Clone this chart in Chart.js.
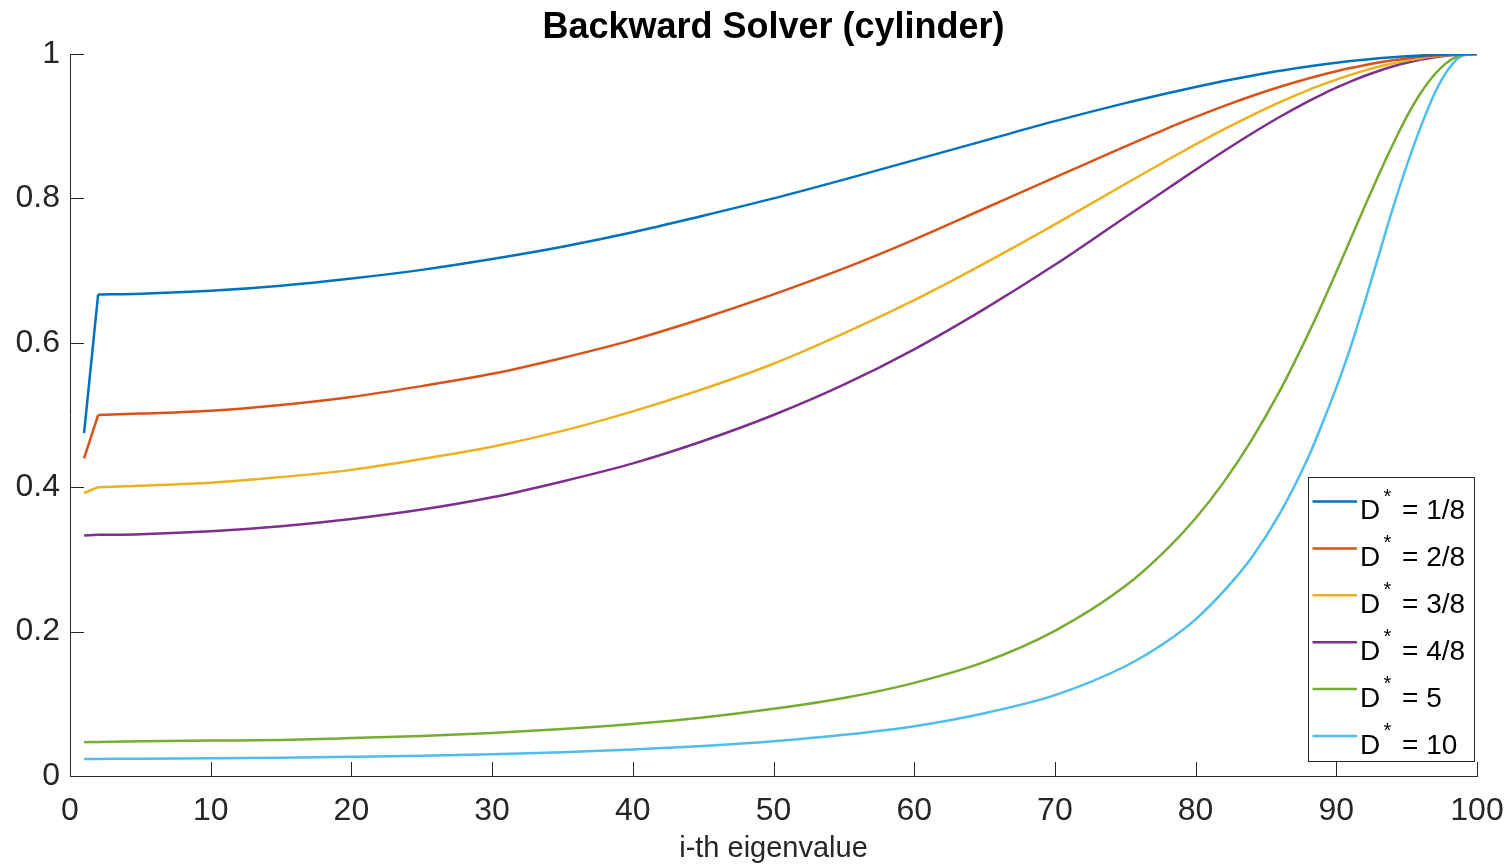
<!DOCTYPE html>
<html lang="en">
<head>
<meta charset="UTF-8">
<title>Backward Solver (cylinder)</title>
<script src="https://cdn.jsdelivr.net/npm/chart.js"></script>
<style>
  html, body { margin: 0; padding: 0; background: #fff; }
</style>
</head>
<body>
<canvas id="grafica" width="1507" height="868"></canvas>
<script>
// datos
const eigIndex = [1, 2, 5, 10, 15, 20, 25, 30, 35, 40, 45, 50, 55, 60, 65, 70, 75, 78, 80, 82, 84, 86, 88, 89, 90, 91, 92, 93, 94, 95, 96, 97, 98, 99, 100];
const dLabels = ["1/8", "2/8", "3/8", "4/8", "5", "10"];
const d1_8 = [0.475, 0.667, 0.668, 0.672, 0.679, 0.689, 0.701, 0.716, 0.733, 0.753, 0.776, 0.800, 0.826, 0.853, 0.880, 0.907, 0.932, 0.9457, 0.9544, 0.9625, 0.9700, 0.9768, 0.9827, 0.9854, 0.9879, 0.9902, 0.9922, 0.9940, 0.9956, 0.9969, 0.9980, 0.9989, 0.9995, 0.9999, 1];
const d2_8 = [0.440, 0.500, 0.502, 0.506, 0.514, 0.525, 0.540, 0.557, 0.579, 0.604, 0.634, 0.667, 0.703, 0.743, 0.786, 0.829, 0.872, 0.8971, 0.9128, 0.9278, 0.9418, 0.9546, 0.9661, 0.9713, 0.9761, 0.9805, 0.9845, 0.9881, 0.9912, 0.9939, 0.9961, 0.9978, 0.9990, 0.9998, 1];
const d3_8 = [0.392, 0.400, 0.402, 0.406, 0.414, 0.424, 0.439, 0.456, 0.478, 0.505, 0.536, 0.571, 0.613, 0.659, 0.710, 0.764, 0.820, 0.8532, 0.8747, 0.8955, 0.9151, 0.9334, 0.9500, 0.9575, 0.9646, 0.9711, 0.9770, 0.9823, 0.9869, 0.9908, 0.9941, 0.9967, 0.9985, 0.9996, 1];
const d4_8 = [0.333, 0.334, 0.335, 0.339, 0.346, 0.356, 0.369, 0.386, 0.408, 0.433, 0.464, 0.500, 0.542, 0.591, 0.647, 0.708, 0.774, 0.8134, 0.8396, 0.8653, 0.8899, 0.9131, 0.9344, 0.9442, 0.9533, 0.9618, 0.9695, 0.9765, 0.9826, 0.9878, 0.9922, 0.9956, 0.9980, 0.9995, 1];
const d5 = [0.047, 0.047, 0.048, 0.049, 0.050, 0.0525, 0.0555, 0.0595, 0.065, 0.072, 0.081, 0.093, 0.108, 0.129, 0.158, 0.201, 0.263, 0.315, 0.357, 0.407, 0.466, 0.534, 0.612, 0.654, 0.698, 0.743, 0.788, 0.832, 0.874, 0.913, 0.946, 0.972, 0.990, 0.999, 1];
const d10 = [0.0235, 0.0237, 0.0239, 0.0245, 0.0253, 0.0265, 0.028, 0.0302, 0.033, 0.0367, 0.0415, 0.048, 0.057, 0.069, 0.087, 0.112, 0.152, 0.187, 0.217, 0.256, 0.303, 0.364, 0.441, 0.488, 0.538, 0.593, 0.655, 0.72, 0.785, 0.845, 0.899, 0.946, 0.980, 0.998, 1];
const xTicks = [0, 10, 20, 30, 40, 50, 60, 70, 80, 90, 100];
const yTicks = [0, 0.2, 0.4, 0.6, 0.8, 1];

const series = [d1_8, d2_8, d3_8, d4_8, d5, d10];
const colores = ["#0072BD", "#D95319", "#EDB120", "#7E2F8E", "#77AC30", "#4DBEEE"];
const fuente = '"Liberation Sans", Arial, Helvetica, sans-serif';

// curva suave desde el 2do punto, y el primer tramo recto aparte
const puntos = s => s.map((v, k) => ({ x: eigIndex[k], y: v }));
const curvas = series.map((s, i) => ({
  label: "D* = " + dLabels[i],
  data: puntos(s).slice(1),
  borderColor: colores[i],
  backgroundColor: colores[i],
  borderWidth: 2.5,
  pointRadius: 0,
  cubicInterpolationMode: "monotone",
  fill: false
}));
const tramos = series.map((s, i) => ({
  label: "",
  enLeyenda: false,
  data: puntos(s).slice(0, 2),
  borderColor: colores[i],
  borderWidth: 2.5,
  pointRadius: 0,
  tension: 0,
  fill: false
}));

// ticks hacia adentro como en matlab
const ticksDentro = {
  id: "ticksDentro",
  beforeDatasetsDraw(chart) {
    const { ctx, chartArea: a, scales: { x, y } } = chart;
    ctx.save();
    ctx.strokeStyle = "#262626";
    ctx.lineWidth = 1;
    ctx.beginPath();
    x.ticks.forEach(t => {
      const px = Math.round(x.getPixelForValue(t.value)) + 0.5;
      ctx.moveTo(px, a.bottom);
      ctx.lineTo(px, a.bottom - 14);
    });
    y.ticks.forEach(t => {
      const py = Math.round(y.getPixelForValue(t.value)) + 0.5;
      ctx.moveTo(a.left, py);
      ctx.lineTo(a.left + 14, py);
    });
    ctx.stroke();
    ctx.restore();
  }
};

// leyenda con el asterisco en superindice
const leyenda = {
  id: "leyenda",
  afterDatasetsDraw(chart) {
    const { ctx, chartArea: a } = chart;
    const w = 166, h = 284;
    const x0 = a.right - 169, y0 = a.bottom - 299;
    ctx.save();
    ctx.fillStyle = "#fff";
    ctx.fillRect(x0, y0, w, h);
    ctx.strokeStyle = "#262626";
    ctx.lineWidth = 1;
    ctx.strokeRect(x0 + 0.5, y0 + 0.5, w, h);
    chart.data.datasets.filter(ds => ds.enLeyenda !== false).forEach((ds, i) => {
      const ly = y0 + 24.5 + i * 46.9;
      ctx.strokeStyle = ds.borderColor;
      ctx.lineWidth = 2.5;
      ctx.beginPath();
      ctx.moveTo(x0 + 4.5, ly);
      ctx.lineTo(x0 + 49, ly);
      ctx.stroke();
      ctx.fillStyle = "#000";
      ctx.textAlign = "left";
      ctx.textBaseline = "alphabetic";
      ctx.font = "28px " + fuente;
      ctx.fillText("D", x0 + 52, ly + 17.5);
      ctx.font = "20px " + fuente;
      ctx.fillText("*", x0 + 75.5, ly + 1);
      ctx.font = "28px " + fuente;
      ctx.fillText("= " + dLabels[i], x0 + 94, ly + 17.5);
    });
    ctx.restore();
  }
};

new Chart(document.getElementById("grafica"), {
  type: "line",
  data: { datasets: curvas.concat(tramos) },
  options: {
    responsive: false,
    animation: false,
    layout: { padding: { left: 0, right: 30, top: 0, bottom: 0 } },
    plugins: {
      legend: { display: false },
      tooltip: { enabled: false },
      title: {
        display: true,
        text: "Backward Solver (cylinder)",
        fullSize: false,
        color: "#000",
        font: { family: fuente, size: 36, weight: "bold", lineHeight: 1.2 },
        padding: { top: 6, bottom: 4.8 }
      }
    },
    scales: {
      x: {
        type: "linear",
        min: 0,
        max: 100,
        afterFit(s) { s.height = 92; s.paddingLeft = 0; s.paddingRight = 0; },
        afterBuildTicks(s) { s.ticks = xTicks.map(v => ({ value: v })); },
        grid: { display: false, drawTicks: false },
        border: { display: true, color: "#262626", width: 1 },
        ticks: {
          color: "#262626",
          padding: 16,
          maxRotation: 0,
          autoSkip: false,
          font: { family: fuente, size: 32 }
        },
        title: {
          display: true,
          text: "i-th eigenvalue",
          color: "#262626",
          font: { family: fuente, size: 29, lineHeight: 1.2 },
          padding: { top: 2, bottom: 2 }
        }
      },
      y: {
        type: "linear",
        min: 0,
        max: 1,
        afterFit(s) { s.width = 70; s.paddingTop = 0; s.paddingBottom = 0; },
        afterBuildTicks(s) { s.ticks = yTicks.map(v => ({ value: v })); },
        grid: { display: false, drawTicks: false },
        border: { display: true, color: "#262626", width: 1 },
        ticks: {
          color: "#262626",
          padding: 10,
          font: { family: fuente, size: 32 },
          callback: v => String(v)
        }
      }
    }
  },
  plugins: [ticksDentro, leyenda]
});
</script>
</body>
</html>
